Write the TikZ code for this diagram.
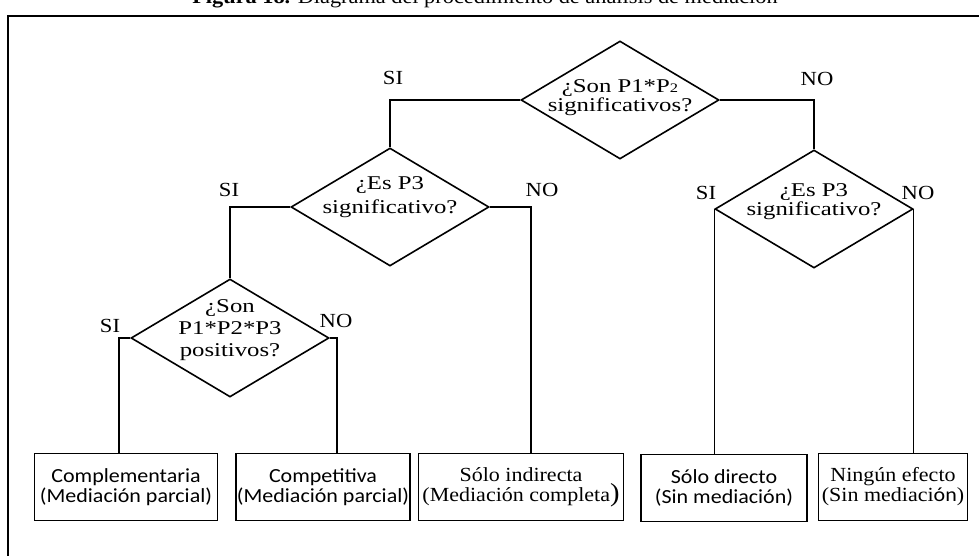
\documentclass[tikz,border=0pt]{standalone}
\usepackage{fontspec}
\setmainfont{Liberation Serif}
% widened serif cuts: questions, caption, branch answers, outcome boxes
\newfontfamily\qfam[FakeStretch=1.27]{Liberation Serif}
\newfontfamily\tfam[FakeStretch=1.1]{Liberation Serif}
\newfontfamily\afam[FakeStretch=1.13]{Liberation Serif}
\newfontfamily\bfam[FakeStretch=1.1]{Liberation Serif}
\newfontfamily\calib[FakeStretch=1.1]{Carlito}
\usetikzlibrary{shapes.geometric}

\tikzset{
  decision/.style={diamond, draw, line width=1.6pt, inner sep=0pt,
    minimum width=198pt, minimum height=118pt},
  qtext/.style={align=center, inner sep=0pt},
  answer/.style={font=\afam\fontsize{20}{20}\selectfont, inner sep=0pt},
  result/.style={draw, line width=1.2pt, minimum height=67pt, inner sep=0pt,
    align=center},
  sansbox/.style={font=\calib\fontsize{20}{20}\selectfont},
  serifbox/.style={font=\bfam\fontsize{20}{20}\selectfont},
  link/.style={line width=1.3pt},
  frame/.style={line width=2pt},
}

\begin{document}
\begin{tikzpicture}[x=1pt, y=-1pt]
\useasboundingbox (0,0) rectangle (979,556);
\clip (0,0) rectangle (979,556);

% caption above the frame
\node[anchor=base, inner sep=0pt, font=\tfam\fontsize{20.3}{20}\selectfont] (title) at (485,4)
  {\textbf{Figura 18.} Diagrama del procedimiento de análisis de mediación};

% outer frame
\draw[frame] (8,600) -- (8,16) -- (1000,16);

% decisions
\node[decision, label={[qtext, yshift=2pt, font=\qfam\fontsize{19.5}{19}\selectfont]center:{¿Son P1*P{\fontsize{13}{13}\selectfont 2}\\significativos?}}] (q1) at (620,100) {};
\node[decision, label={[qtext, yshift=10pt, font=\qfam\fontsize{19.5}{24}\selectfont]center:{¿Es P3\\significativo?}}] (q2) at (390,207) {};
\node[decision, label={[qtext, yshift=7pt, font=\qfam\fontsize{19.5}{19}\selectfont]center:{¿Es P3\\significativo?}}] (q3) at (814,209) {};
\node[decision, label={[qtext, yshift=8pt, font=\qfam\fontsize{19.5}{22}\selectfont]center:{¿Son\\P1*P2*P3\\positivos?}}] (q4) at (230,338) {};

% outcomes
\node[result, sansbox, minimum width=183pt] (r1) at (126,487)
  {Complementaria\\(Mediación parcial)};
\node[result, sansbox, minimum width=174pt] (r2) at (323,487)
  {Competitiva\\(Mediación parcial)};
\node[result, serifbox, minimum width=205pt] (r3) at (521,487)
  {Sólo indirecta\\(Mediación completa{\fontsize{26}{20}\selectfont)}};
\node[result, sansbox, minimum width=166pt] (r4) at (724,488)
  {Sólo directo\\(Sin mediación)};
\node[result, serifbox, minimum width=149pt] (r5) at (893,487)
  {Ningún efecto\\(Sin mediaci{\calib\fontsize{20}{20}\selectfont ón})};

% branches
\draw[link] (q1.west) -| (q2.north);
\draw[link] (q1.east) -| (q3.north);
\draw[link] (q2.west) -| (q4.north);
\draw[link] (q2.east) -| ([xshift=10pt]r3.north);
\draw[link] (q3.west) -- (q3.west |- r4.north);
\draw[link] (q3.east) -- (q3.east |- r5.north);
\draw[link] (q4.west) -| ([xshift=-7pt]r1.north);
\draw[link] (q4.east) -| ([xshift=14pt]r2.north);

% branch answers
\node[answer] (si1) at (393,78) {SI};
\node[answer] (no1) at (817,79) {NO};
\node[answer] (si2) at (229,190) {SI};
\node[answer] (no2) at (542,190) {NO};
\node[answer] (si3) at (706,193) {SI};
\node[answer] (no3) at (918,193) {NO};
\node[answer] (si4) at (110,326) {SI};
\node[answer] (no4) at (336,321) {NO};
\end{tikzpicture}
\end{document}
